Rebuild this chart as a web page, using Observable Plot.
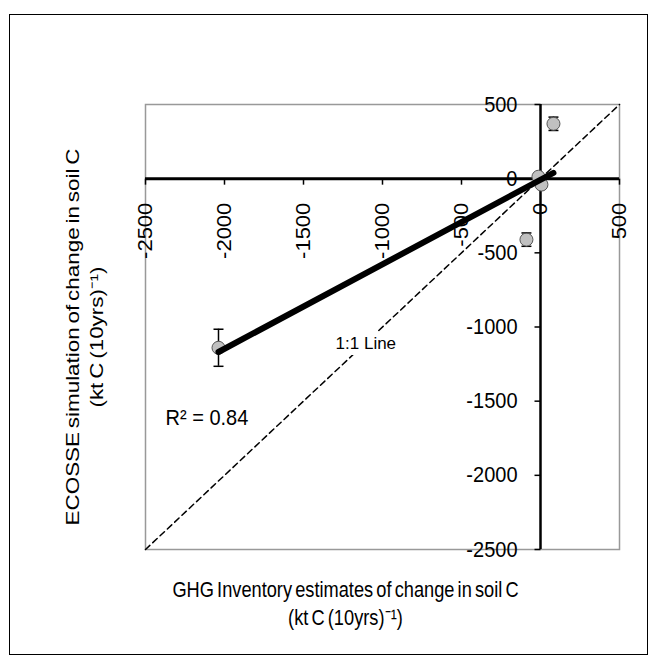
<!DOCTYPE html>
<html><head><meta charset="utf-8">
<script src="https://cdn.jsdelivr.net/npm/d3@7"></script>
<script src="https://cdn.jsdelivr.net/npm/@observablehq/plot@0.6"></script>
<style>
body{margin:0;background:#fff;}
#wrap{position:relative;width:657px;height:664px;}
#wrap svg{position:absolute;left:0;top:0;}
#border{position:absolute;left:9px;top:14px;width:639px;height:641px;border:1.5px solid #000;box-sizing:border-box;pointer-events:none}
</style></head><body>
<div id="wrap"><div id="border"></div></div>
<script>
// Data (kt C (10yrs)^-1)
const inventory = [-2038, 82, -89, -13, 6];     // GHG Inventory estimates (x)
const ecosse    = [-1140, 370, -411, 13, -40];  // ECOSSE simulation (y)
const errors    = [125, 45, 45, 20, 20];        // error bar half-lengths
const xTicks = [-2500, -2000, -1500, -1000, -500, 0, 500];
const yTicks = [-2500, -2000, -1500, -1000, -500, 0, 500];
const oneToOne = [-2500, 500];
const r2Label = "R² = 0.84";
const r2Pos = {x: -2373, y: -1612};
const lineLabel = "1:1 Line";
const lineLabelPos = {x: -1297, y: -1113};
const xTitle = "GHG Inventory estimates of change in soil C\n(kt C (10yrs)\u207B\u00B9)";
const yTitle = "ECOSSE simulation of change in soil C\n(kt C (10yrs)\u207B\u00B9)";

const data = inventory.map((x, i) => ({x, y: ecosse[i], e: errors[i]}));
const diag = oneToOne.map(v => ({v}));

const hline = {draw(ctx){ ctx.moveTo(-5, 0); ctx.lineTo(5, 0); }};
const tickDown = {draw(ctx){ ctx.moveTo(0, 0); ctx.lineTo(0, 6); }};
const tickLeft = {draw(ctx){ ctx.moveTo(0, 0); ctx.lineTo(-6, 0); }};

const font = "Liberation Sans, Arial, sans-serif";

const chart = Plot.plot({
  width: 657, height: 664,
  marginLeft: 145, marginRight: 38, marginTop: 104, marginBottom: 115,
  style: {fontFamily: font, fontSize: "19px", color: "#000", background: "transparent"},
  x: {domain: [-2500, 500], axis: null},
  y: {domain: [-2500, 500], axis: null},
  marks: [
    Plot.frame({stroke: "#999", strokeWidth: 1.5}),
    Plot.line(diag, {x: "v", y: "v", stroke: "#000", strokeWidth: 1.5, strokeDasharray: "6,4"}),
    Plot.ruleY([0], {stroke: "#000", strokeWidth: 3}),
    Plot.ruleX([0], {stroke: "#000", strokeWidth: 2.5}),
    Plot.dot(xTicks, {x: d => d, y: 0, symbol: tickDown, stroke: "#000", strokeWidth: 1.5, r: 5}),
    Plot.dot(yTicks, {x: 0, y: d => d, symbol: tickLeft, stroke: "#000", strokeWidth: 1.5, r: 5}),
    Plot.text(xTicks, {x: d => d, y: 0, text: d => String(d), rotate: -90, textAnchor: "end", lineAnchor: "middle", dy: 24, fontSize: 20, className: "rot-tick"}),
    Plot.text(yTicks, {x: 0, y: d => d, text: d => String(d), textAnchor: "end", lineAnchor: "middle", dx: -23, fontSize: 20, className: "hor-tick"}),
    Plot.ruleX(data, {x: "x", y1: d => d.y - d.e, y2: d => d.y + d.e, stroke: "#000", strokeWidth: 1.5}),
    Plot.dot(data, {x: "x", y: d => d.y - d.e, symbol: hline, stroke: "#000", strokeWidth: 1.5, r: 5}),
    Plot.dot(data, {x: "x", y: d => d.y + d.e, symbol: hline, stroke: "#000", strokeWidth: 1.5, r: 5}),
    Plot.dot(data, {x: "x", y: "y", r: 6.5, fill: "#c0c0c0", stroke: "#555", strokeWidth: 1}),
    Plot.linearRegressionY(data, {x: "x", y: "y", ci: 0, stroke: "#000", strokeWidth: 6}),
    Plot.text([r2Label], {x: r2Pos.x, y: r2Pos.y, text: d => d, textAnchor: "start", fontSize: 20, className: "hor-tick"}),
    Plot.text([lineLabel], {x: lineLabelPos.x, y: lineLabelPos.y, text: d => d, textAnchor: "start", fontSize: 17, stroke: "white", strokeWidth: 12, fill: "#000", className: "small"}),
    Plot.text([xTitle], {frameAnchor: "bottom", text: d => d, textAnchor: "middle", lineAnchor: "top", lineHeight: 1.25, dx: -37, dy: 28, fontSize: 19, className: "hor-title"}),
    Plot.text([yTitle], {frameAnchor: "left", text: d => d, rotate: -90, textAnchor: "middle", lineAnchor: "middle", lineHeight: 1.3, dx: -62, dy: 10, fontSize: 19, className: "rot-title"})
  ]
});
document.getElementById("wrap").appendChild(chart);

// Mimic the reference's slightly tall, narrow text rendering
const stretch = [
  {cls: "rot-tick", rot: true, a: 1, b: 1.1},
  {cls: "hor-tick", rot: false, a: 1, b: 1.1},
  {cls: "hor-title", rot: false, a: 0.96, b: 1.18, ws: -2},
  {cls: "rot-title", rot: true, a: 0.96, b: 1.18, ws: -2}
];
for (const s of stretch) {
  chart.querySelectorAll("." + s.cls).forEach(node => {
    const texts = node.tagName.toLowerCase() === "text" ? [node] : Array.from(node.querySelectorAll("text"));
    texts.forEach(tn => {
      const el = d3.select(tn);
      if (s.ws) el.style("word-spacing", s.ws + "px");
      let t = el.attr("transform");
      if (!t) {
        const x = +el.attr("x") || 0, y = +el.attr("y") || 0;
        el.attr("x", null).attr("y", null);
        t = `translate(${x},${y})`;
      }
      const sc = s.rot ? `scale(${s.b},${s.a})` : `scale(${s.a},${s.b})`;
      el.attr("transform", `${t} ${sc}`);
    });
  });
}
</script>
</body></html>
